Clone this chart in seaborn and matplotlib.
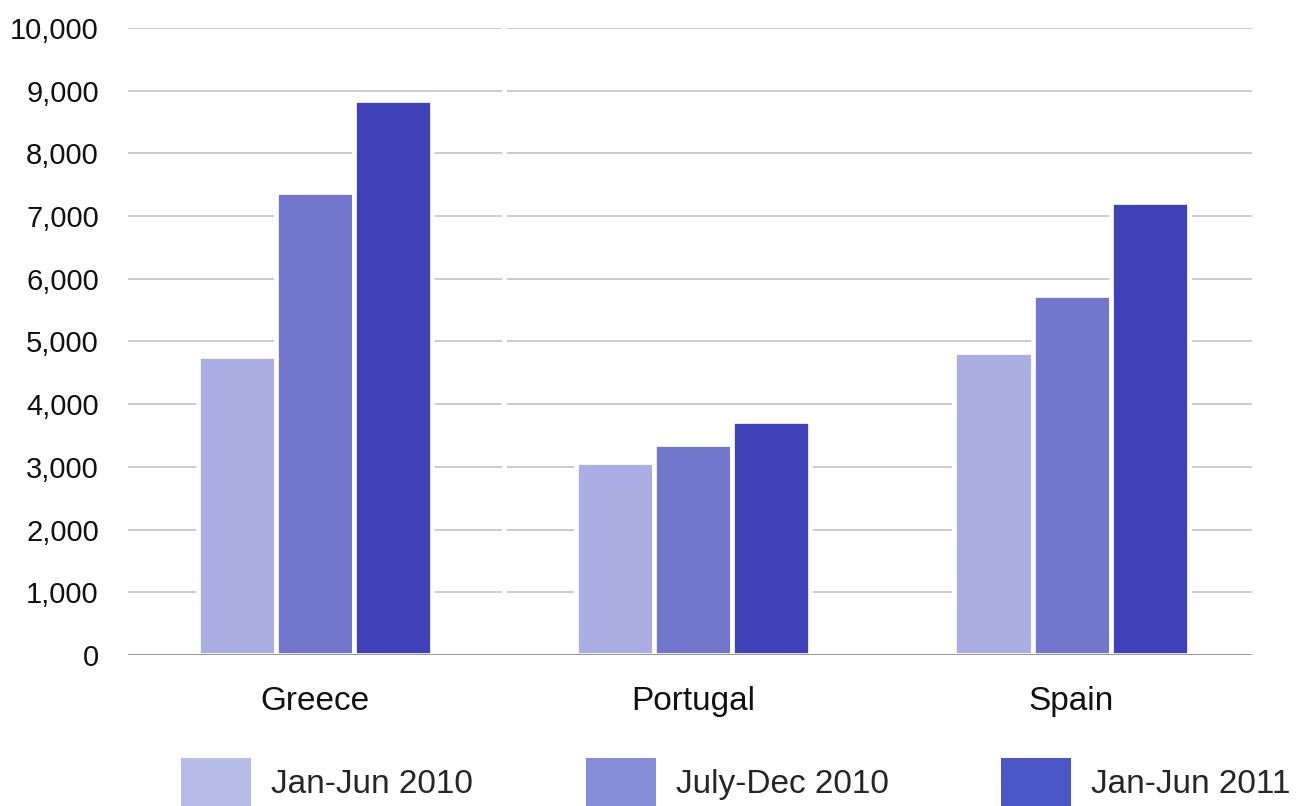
import matplotlib
matplotlib.use("Agg")
import matplotlib.pyplot as plt
import matplotlib.patches as mpatches
import seaborn as sns
import pandas as pd

countries = ["Greece", "Portugal", "Spain"]
periods = ["Jan-Jun 2010", "July-Dec 2010", "Jan-Jun 2011"]
jan_jun_2010 = [4770, 3080, 4830]
jul_dec_2010 = [7390, 3370, 5740]
jan_jun_2011 = [8850, 3730, 7220]
y_ticks = [0, 1000, 2000, 3000, 4000, 5000, 6000, 7000, 8000, 9000, 10000]

bar_colors = ["#aaaee3", "#7276cc", "#3f41b9"]
legend_colors = ["#b8bce8", "#868dd8", "#4b57c7"]

rows = []
for series, vals in zip(periods, [jan_jun_2010, jul_dec_2010, jan_jun_2011]):
    for c, v in zip(countries, vals):
        rows.append({"country": c, "period": series, "value": v})
df = pd.DataFrame(rows)

sns.set_theme(style="white")
plt.rcParams["font.family"] = ["Liberation Sans", "DejaVu Sans"]

fig = plt.figure(figsize=(12.99, 8.06), dpi=100)
ax = fig.add_axes([128 / 1299, 1 - 655 / 806, (1252 - 128) / 1299, (655 - 28) / 806])

sns.barplot(data=df, x="country", y="value", hue="period", order=countries,
            hue_order=periods, palette=bar_colors, width=0.619,
            edgecolor="white", linewidth=3.4, saturation=1, ax=ax,
            legend=False, zorder=3)

ax.set_ylim(0, 10000)
ax.set_xlim(-0.4945, 2.4771)
ax.set_yticks(y_ticks)
ax.set_yticklabels([f"{t:,}" for t in y_ticks])
ax.yaxis.grid(True, color="#cccccc", linewidth=1.4, zorder=0)
ax.set_axisbelow(True)
ax.axhline(0, color="#999999", linewidth=2.2, zorder=5)
ax.axvline(0.5, color="white", linewidth=3.6, zorder=1)
for s in ax.spines.values():
    s.set_visible(False)
ax.tick_params(axis="y", length=0, pad=21, labelsize=21, labelcolor="#111111")
ax.tick_params(axis="x", length=0, pad=22, labelsize=24, labelcolor="#111111")
ax.set_xlabel("")
ax.set_ylabel("")

handles = [mpatches.Patch(facecolor=c, edgecolor="none") for c in legend_colors]
fig.legend(handles, periods, loc="lower left", bbox_to_anchor=(181 / 1299, 0.0),
           ncol=3, frameon=False, handlelength=2.1, handleheight=1.84,
           handletextpad=0.6, columnspacing=3.38, borderpad=0, borderaxespad=0,
           prop={"family": ["Liberation Sans", "DejaVu Sans"], "size": 24})

fig.savefig("out.png", dpi=100)
